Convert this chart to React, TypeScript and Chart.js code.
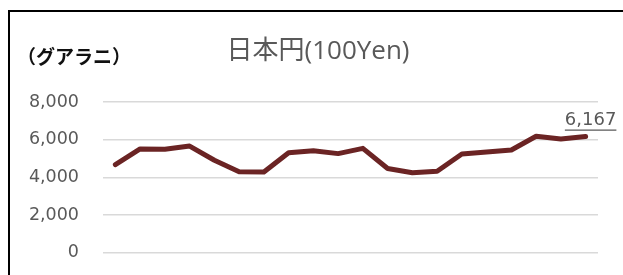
import React, { useEffect, useRef } from "react";
import { Chart, registerables } from "chart.js";

Chart.register(...registerables);

const categories = [
  "1", "2", "3", "4", "5", "6", "7", "8", "9", "10",
  "11", "12", "13", "14", "15", "16", "17", "18", "19", "20",
];
const values = [
  4680, 5510, 5490, 5660, 4910, 4300, 4280, 5310, 5410, 5260,
  5540, 4470, 4240, 4320, 5240, 5340, 5450, 6180, 6040, 6167,
];
const titleText = "日本円(100Yen)";
const unitText = "（グアラニ）";
const yMin = 0;
const yMax = 8000;
const yStep = 2000;

const fmt = (v: number) => v.toLocaleString("en-US");

export default function App() {
  const ref = useRef<HTMLCanvasElement | null>(null);

  useEffect(() => {
    document.body.style.margin = "0";
    const canvas = ref.current;
    if (!canvas) return;

    const textPlugin = {
      id: "texts",
      afterDraw(chart: any) {
        const ctx = chart.ctx;
        ctx.save();
        // title
        ctx.fillStyle = "#595959";
        ctx.font = '26px "Open Sans", "Noto Sans CJK JP", sans-serif';
        ctx.textAlign = "center";
        ctx.textBaseline = "middle";
        ctx.fillText(titleText, 318, 52);
        // unit label
        ctx.fillStyle = "#111111";
        ctx.font = 'bold 19px "Noto Sans CJK JP", sans-serif';
        ctx.textAlign = "left";
        ctx.fillText(unitText, 17, 57);
        // last value label
        const meta = chart.getDatasetMeta(0);
        const pt = meta.data[meta.data.length - 1];
        if (pt) {
          const label = fmt(values[values.length - 1]);
          ctx.font = '18px "DejaVu Sans", sans-serif';
          ctx.fillStyle = "#595959";
          ctx.textAlign = "center";
          ctx.textBaseline = "alphabetic";
          const cx = pt.x + 5;
          const by = pt.y - 11.5;
          ctx.fillText(label, cx, by);
          const w = ctx.measureText(label).width;
          ctx.strokeStyle = "#595959";
          ctx.lineWidth = 1.2;
          ctx.beginPath();
          ctx.moveTo(cx - w / 2, pt.y - 6.5);
          ctx.lineTo(cx + w / 2, pt.y - 6.5);
          ctx.stroke();
        }
        ctx.restore();
      },
    };

    const chart = new Chart(canvas, {
      type: "line",
      data: {
        labels: categories,
        datasets: [
          {
            data: values,
            borderColor: "#6b2424",
            backgroundColor: "#6b2424",
            borderWidth: 5,
            borderCapStyle: "round",
            borderJoinStyle: "round",
            pointRadius: 0,
            tension: 0,
          },
        ],
      },
      options: {
        animation: false,
        responsive: false,
        maintainAspectRatio: false,
        layout: { autoPadding: false, padding: { left: 0, top: 102, right: 25, bottom: 22.3 } },
        plugins: {
          legend: { display: false },
          title: { display: false },
          tooltip: { enabled: false },
        },
        scales: {
          x: {
            type: "category",
            offset: true,
            display: false,
            grid: { display: false },
          },
          y: {
            min: yMin,
            max: yMax,
            ticks: {
              stepSize: yStep,
              padding: 24,
              color: "#595959",
              font: { family: '"DejaVu Sans", sans-serif', size: 17.5 },
              callback: (v: any) => fmt(Number(v)),
            },
            grid: {
              color: "#d9d9d9",
              lineWidth: 1.5,
              drawTicks: false,
            },
            border: { display: false },
            afterFit: (scale: any) => {
              scale.width = 103;
              scale.paddingTop = 0;
              scale.paddingBottom = 0;
            },
          },
        },
      },
      plugins: [textPlugin],
    });
    return () => chart.destroy();
  }, []);

  return (
    <div
      style={{
        position: "fixed",
        left: 0,
        top: 0,
        width: 623,
        height: 275,
        background: "#fff",
        overflow: "hidden",
      }}
    >
      <div
        style={{
          position: "absolute",
          left: 8,
          top: 10,
          width: 700,
          height: 400,
          border: "2px solid #000",
          boxSizing: "border-box",
        }}
      />
      <canvas
        ref={ref}
        width={623}
        height={275}
        style={{ position: "absolute", left: 0, top: 0, width: 623, height: 275 }}
      />
    </div>
  );
}
